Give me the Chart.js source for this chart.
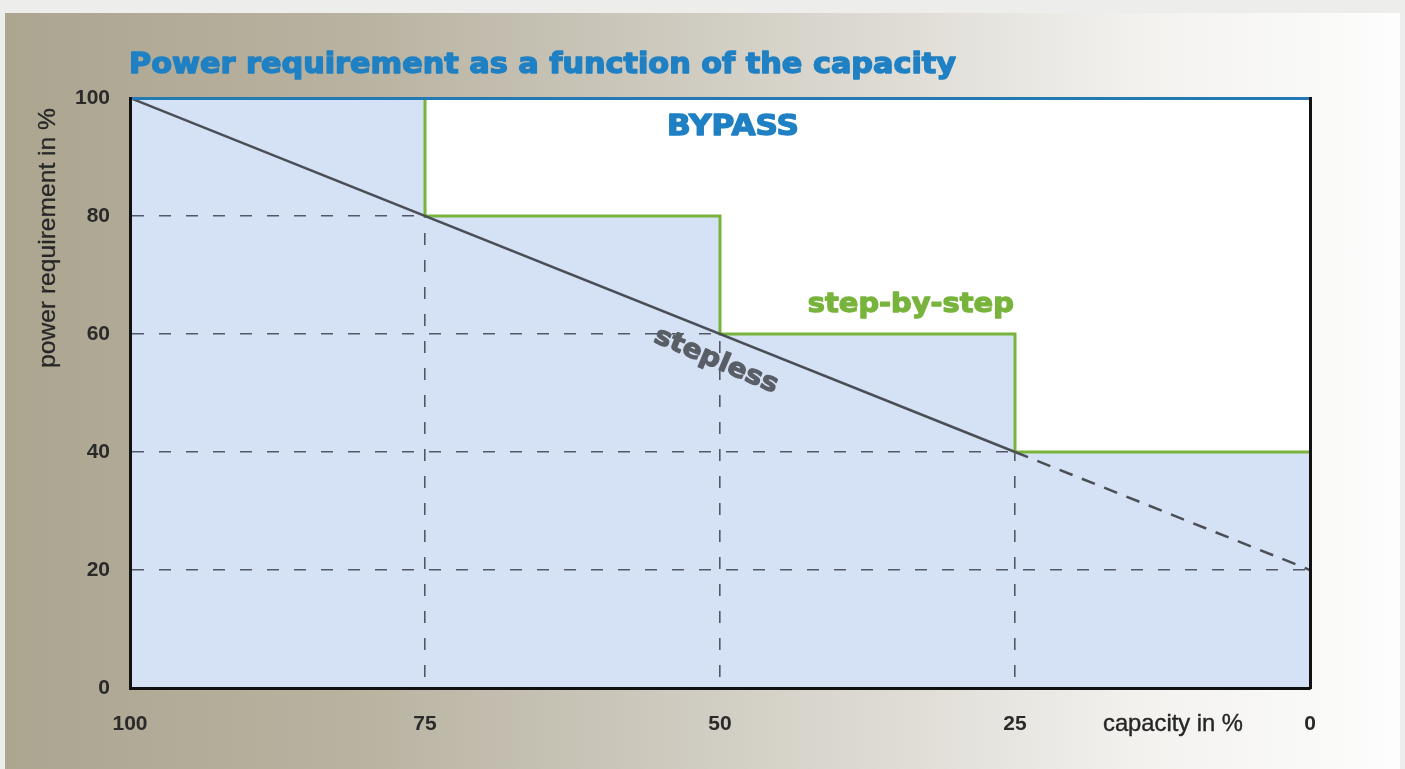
<!DOCTYPE html>
<html>
<head>
<meta charset="utf-8">
<script src="https://cdn.jsdelivr.net/npm/chart.js"></script>
<style>
  html, body { margin: 0; padding: 0; width: 1405px; height: 769px; overflow: hidden; background: #ededeb; }
  #panel {
    position: absolute; left: 5px; top: 13px; width: 1395px; height: 756px;
    background: linear-gradient(90deg, #aca590 0%, #b8b2a0 25%, #cbc7bb 45%, #e0ddd6 65%, #f3f2ef 82%, #fdfdfd 100%);
  }
  #chart { position: absolute; left: 0; top: 0; }
</style>
</head>
<body>
<div id="panel"></div>
<canvas id="chart" width="1405" height="769"></canvas>
<script>
// capacity in % (x axis runs from 100 down to 0)
var capacitySteps = [100, 75, 50, 25, 0];
// step-by-step power requirement in %
var stepPower = [100, 80, 60, 40, 40];
// stepless: solid down to 25 %, dashed below
var steplessCapacity = [100, 25, 0];
var steplessPower = [100, 40, 20];
var yTicks = [0, 20, 40, 60, 80, 100];
var xTicks = [100, 75, 50, 25, 0];

var blue = '#1f80c3';
var green = '#78b43c';
var gridColor = '#535866';

function toPoints(xs, ys) {
  return xs.map(function(x, i) { return { x: x, y: ys[i] }; });
}

// draw text squeezed/stretched to a given width, optionally thickened
function fitText(ctx, text, x, y, width, font, color, align, heavy) {
  ctx.save();
  ctx.font = font;
  ctx.fillStyle = color;
  ctx.strokeStyle = color;
  ctx.textBaseline = 'alphabetic';
  var w = ctx.measureText(text).width;
  var sx = width / w;
  var left = align === 'right' ? x - width : (align === 'center' ? x - width / 2 : x);
  ctx.translate(left, y);
  ctx.scale(sx, 1);
  ctx.textAlign = 'left';
  ctx.fillText(text, 0, 0);
  if (heavy) {
    ctx.lineWidth = heavy;
    ctx.lineJoin = 'round';
    ctx.strokeText(text, 0, 0);
  }
  ctx.restore();
}

var plotBackground = {
  id: 'plotBackground',
  beforeDraw: function(chart) {
    var a = chart.chartArea, ctx = chart.ctx;
    ctx.save();
    ctx.fillStyle = '#d5e2f5';
    ctx.fillRect(a.left, a.top, a.right - a.left, a.bottom - a.top);
    ctx.restore();
  }
};

var labels = {
  id: 'labels',
  afterDraw: function(chart) {
    var ctx = chart.ctx;
    var xs = chart.scales.x, ys = chart.scales.y;

    // title
    fitText(ctx, 'Power requirement as a function of the capacity', 129, 73, 827,
      'bold 28px "DejaVu Sans"', blue, 'left', 1.4);

    // BYPASS
    fitText(ctx, 'BYPASS', xs.getPixelForValue(48.9), ys.getPixelForValue(93.7), 132,
      'bold 28px "DejaVu Sans"', blue, 'center', 1.4);

    // step-by-step
    fitText(ctx, 'step-by-step', xs.getPixelForValue(25.1), ys.getPixelForValue(63.7), 206,
      'bold 27px "DejaVu Sans"', green, 'right', 1.3);

    // stepless along the line
    ctx.save();
    ctx.translate(xs.getPixelForValue(50.3), ys.getPixelForValue(55.6));
    ctx.rotate(23 * Math.PI / 180);
    fitText(ctx, 'stepless', 0, 8, 132, 'bold 26px "DejaVu Sans"', '#5a5e66', 'center', 1.2);
    ctx.restore();

    // x axis title
    fitText(ctx, 'capacity in %', 1103, 731, 140, '24px "Liberation Sans"', '#262626', 'left', 0.4);

    // y axis title
    ctx.save();
    ctx.translate(55, 238);
    ctx.rotate(-Math.PI / 2);
    fitText(ctx, 'power requirement in %', 0, 0, 260, '24px "Liberation Sans"', '#262626', 'center', 0.3);
    ctx.restore();
  }
};

var tickFont = { family: '"Liberation Sans", Arial', size: 21, weight: 'bold' };
var hideEdges = function(c) {
  return (c.tick && (c.tick.value === 0 || c.tick.value === 100)) ? 'rgba(0,0,0,0)' : gridColor;
};

new Chart(document.getElementById('chart').getContext('2d'), {
  type: 'line',
  data: {
    datasets: [
      {
        label: 'stepless',
        data: toPoints(steplessCapacity, steplessPower),
        borderColor: '#4a4e56',
        borderWidth: 2.5,
        pointRadius: 0,
        fill: false,
        segment: {
          borderDash: function(c) { return c.p0DataIndex === 1 ? [14, 10] : undefined; }
        }
      },
      {
        label: 'step-by-step',
        data: toPoints(capacitySteps, stepPower),
        stepped: 'before',
        borderColor: green,
        borderWidth: 3,
        pointRadius: 0,
        fill: 'end',
        backgroundColor: '#ffffff'
      }
    ]
  },
  options: {
    responsive: false,
    animation: false,
    layout: { padding: 0 },
    plugins: { legend: { display: false }, tooltip: { enabled: false }, title: { display: false } },
    scales: {
      x: {
        type: 'linear', position: 'bottom', reverse: true, min: 0, max: 100,
        afterBuildTicks: function(s) { s.ticks = xTicks.map(function(v) { return { value: v }; }); },
        afterFit: function(s) { s.height = 81; },
        ticks: { font: tickFont, color: '#2a2a2a', padding: 24, maxRotation: 0, autoSkip: false },
        grid: { drawTicks: false, lineWidth: 1.6, color: hideEdges },
        border: { display: true, color: '#111111', width: 3, dash: [12, 15], z: 1 }
      },
      x2: {
        type: 'linear', position: 'top', min: 0, max: 100, reverse: true,
        afterFit: function(s) { s.height = 98; },
        ticks: { display: false },
        grid: { display: false, drawTicks: false },
        border: { display: true, color: '#2479b3', width: 3, z: 1 }
      },
      y: {
        type: 'linear', position: 'left', min: 0, max: 100,
        afterBuildTicks: function(s) { s.ticks = yTicks.map(function(v) { return { value: v }; }); },
        afterFit: function(s) { s.width = 130; },
        ticks: { font: tickFont, color: '#2a2a2a', padding: 20 },
        grid: { drawTicks: false, lineWidth: 1.6, color: hideEdges },
        border: { display: true, color: '#111111', width: 3, dash: [12, 15], z: 1 }
      },
      y2: {
        type: 'linear', position: 'right', min: 0, max: 100,
        afterFit: function(s) { s.width = 95; },
        ticks: { display: false },
        grid: { display: false, drawTicks: false },
        border: { display: true, color: '#111111', width: 3, z: 1 }
      }
    }
  },
  plugins: [plotBackground, labels]
});
</script>
</body>
</html>
